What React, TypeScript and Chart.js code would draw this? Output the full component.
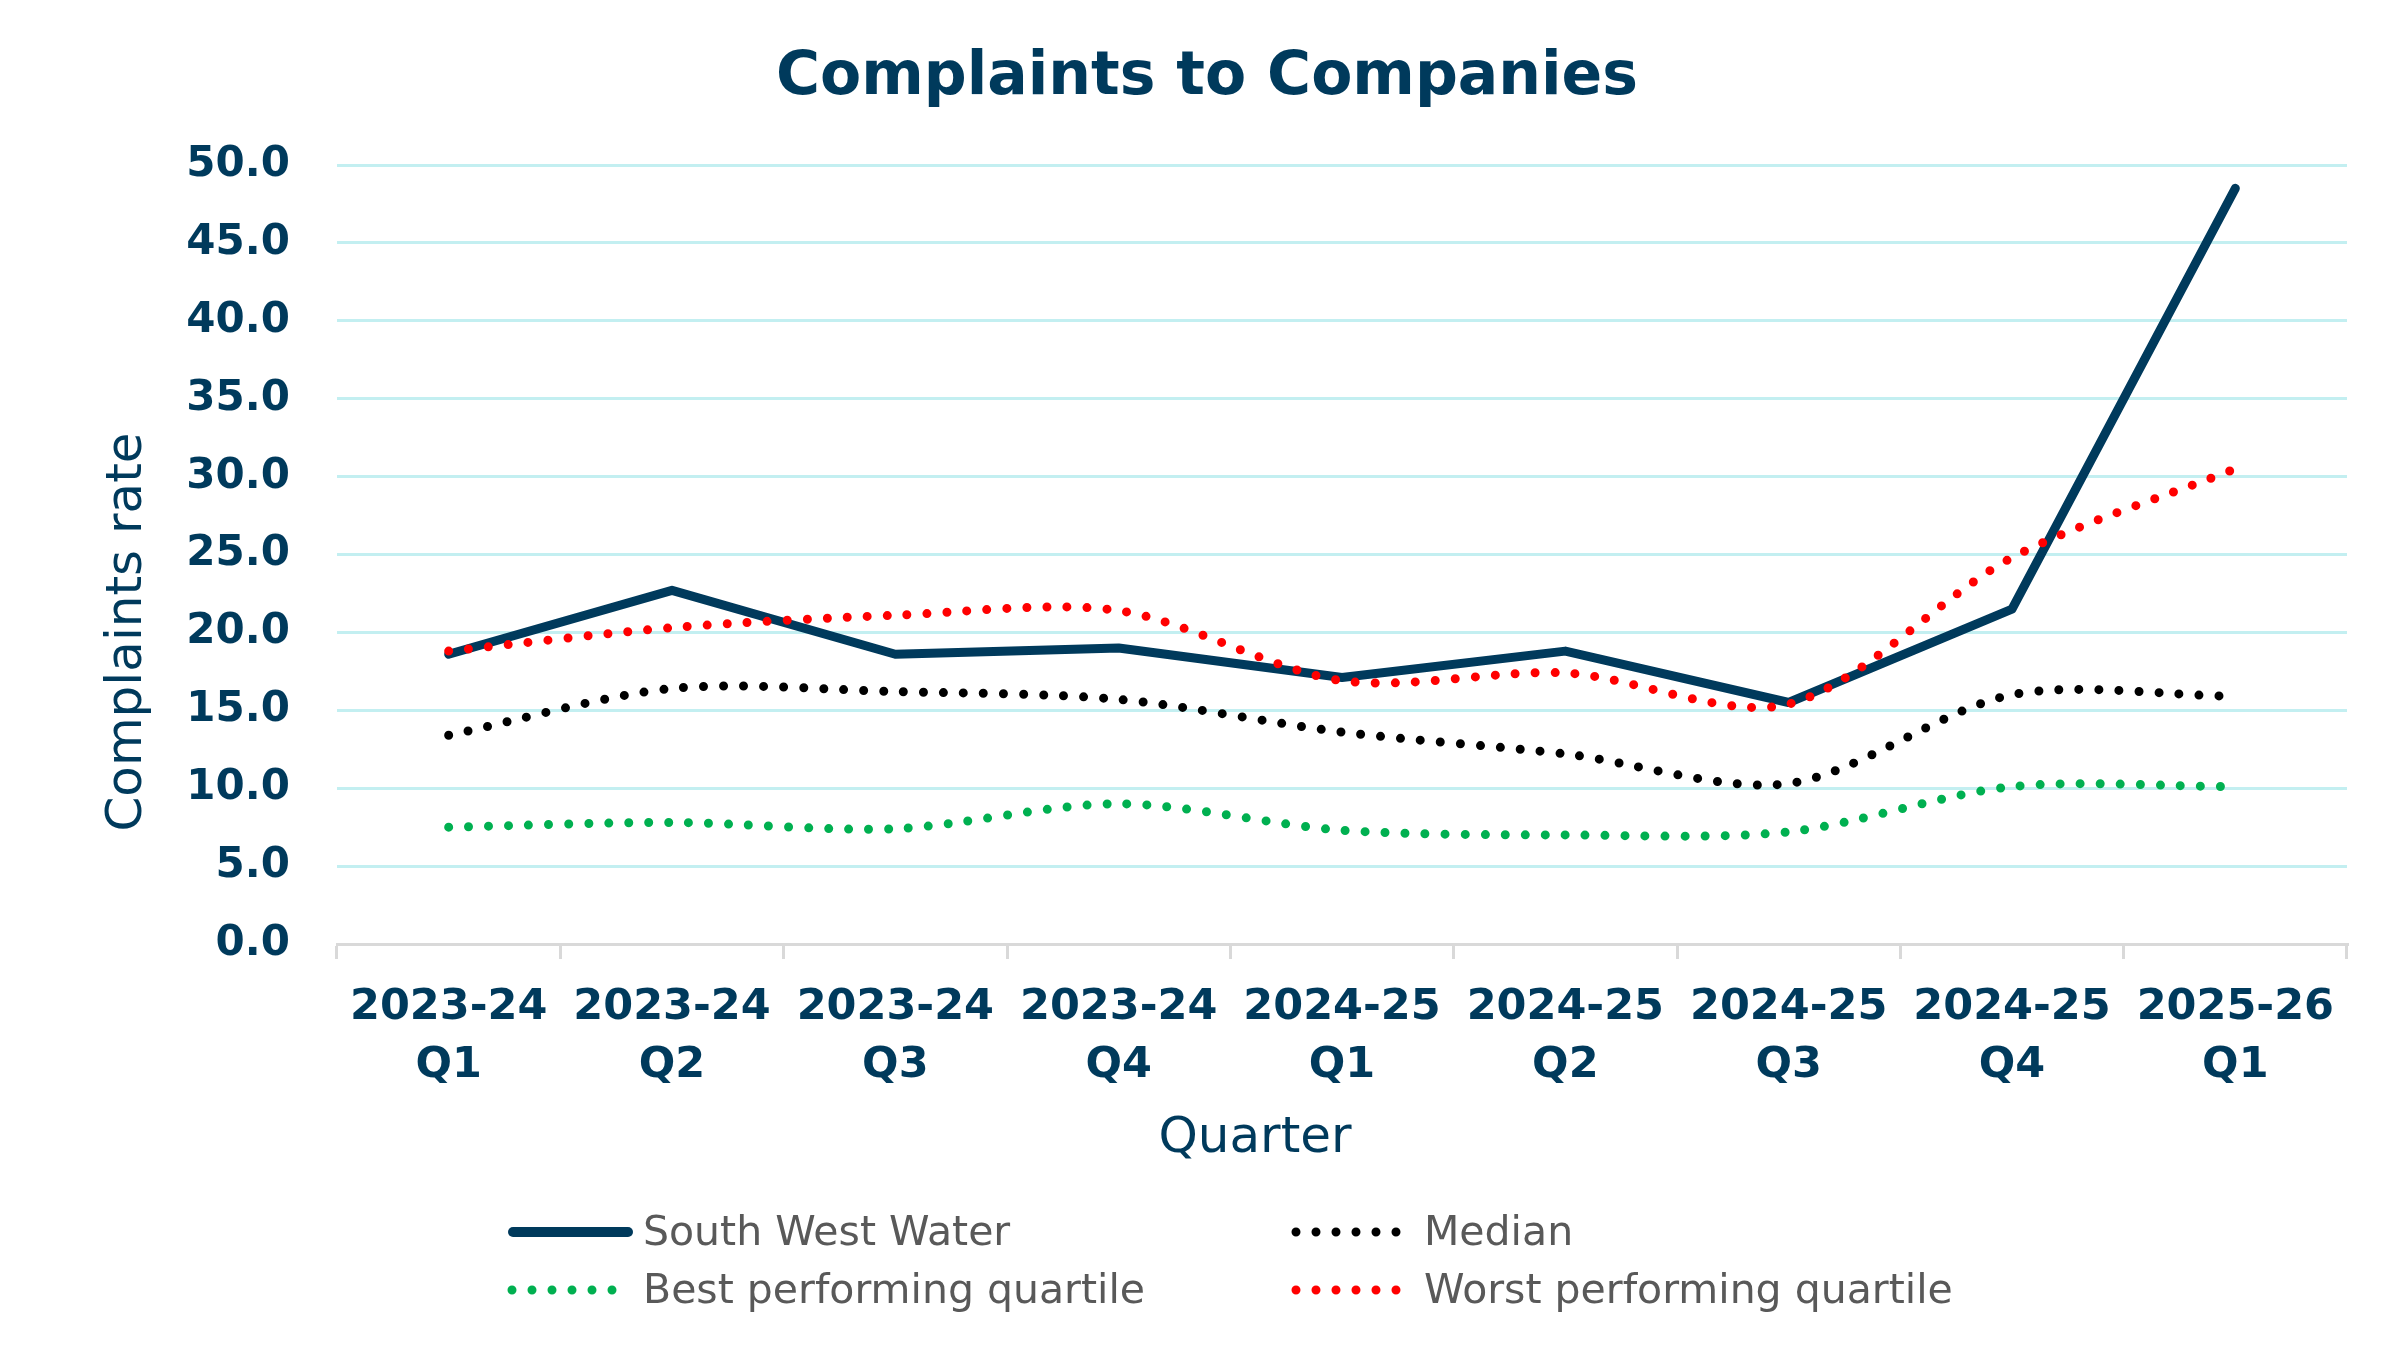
import React, { useEffect, useRef } from "react";
import { Chart, registerables } from "chart.js";

Chart.register(...registerables);

const CATEGORIES: string[][] = [
  ["2023-24", "Q1"],
  ["2023-24", "Q2"],
  ["2023-24", "Q3"],
  ["2023-24", "Q4"],
  ["2024-25", "Q1"],
  ["2024-25", "Q2"],
  ["2024-25", "Q3"],
  ["2024-25", "Q4"],
  ["2025-26", "Q1"],
];

const SOUTH_WEST_WATER = [18.6, 22.7, 18.6, 19.0, 17.1, 18.8, 15.5, 21.5, 48.5];
const MEDIAN = [13.4, 16.4, 16.2, 15.7, 13.6, 12.2, 10.3, 16.0, 15.9];
const BEST_QUARTILE = [7.5, 7.8, 7.4, 9.0, 7.3, 7.0, 7.2, 10.1, 10.1];
const WORST_QUARTILE = [18.8, 20.3, 21.1, 21.4, 16.9, 17.4, 15.4, 24.8, 30.5];

const SERIES_NAMES = [
  "South West Water",
  "Median",
  "Best performing quartile",
  "Worst performing quartile",
];

const TITLE = "Complaints to Companies";
const Y_TITLE = "Complaints rate";
const X_TITLE = "Quarter";

const NAVY = "#003a5c";
const GRID = "#c3eff1";
const AXIS_GRAY = "#d9d9d9";
const LEGEND_TEXT = "#595959";
const RED = "#ff0000";
const GREEN = "#00b050";
const BLACK = "#000000";
const FONT = "'DejaVu Sans', sans-serif";

const overlayPlugin = {
  id: "overlay",
  afterDraw(chart: any) {
    const ctx: CanvasRenderingContext2D = chart.ctx;
    const area = chart.chartArea;

    // Y axis title
    ctx.save();
    ctx.fillStyle = NAVY;
    ctx.font = `400 50px ${FONT}`;
    ctx.textAlign = "center";
    ctx.textBaseline = "middle";
    ctx.translate(128, 632);
    ctx.rotate(-Math.PI / 2);
    ctx.fillText(Y_TITLE, 0, 0);
    ctx.restore();

    // X axis title
    ctx.save();
    ctx.fillStyle = NAVY;
    ctx.font = `400 50px ${FONT}`;
    ctx.textAlign = "center";
    ctx.textBaseline = "middle";
    ctx.fillText(X_TITLE, 1255, area.bottom + 195);
    ctx.restore();

    // Legend
    const rows = [area.bottom + 288, area.bottom + 346];
    const cols = [512, 1296];
    const items = [
      { name: SERIES_NAMES[0], color: NAVY, solid: true, col: 0, row: 0 },
      { name: SERIES_NAMES[1], color: BLACK, solid: false, col: 1, row: 0 },
      { name: SERIES_NAMES[2], color: GREEN, solid: false, col: 0, row: 1 },
      { name: SERIES_NAMES[3], color: RED, solid: false, col: 1, row: 1 },
    ];
    items.forEach((it) => {
      const x0 = cols[it.col];
      const y = rows[it.row];
      ctx.save();
      ctx.strokeStyle = it.color;
      ctx.lineCap = "round";
      if (it.solid) {
        ctx.lineWidth = 10;
        ctx.setLineDash([]);
        ctx.beginPath();
        ctx.moveTo(x0 + 1, y);
        ctx.lineTo(x0 + 116, y);
        ctx.stroke();
      } else {
        ctx.lineWidth = 9;
        ctx.setLineDash([0, 20]);
        ctx.beginPath();
        ctx.moveTo(x0, y);
        ctx.lineTo(x0 + 101, y);
        ctx.stroke();
      }
      ctx.restore();
      ctx.save();
      ctx.fillStyle = LEGEND_TEXT;
      ctx.font = `400 41px ${FONT}`;
      ctx.textAlign = "left";
      ctx.textBaseline = "middle";
      ctx.fillText(it.name, x0 + 131 - (it.col === 1 ? 3 : 0), y + 2);
      ctx.restore();
    });
  },
};

export default function App() {
  const canvasRef = useRef<HTMLCanvasElement | null>(null);

  useEffect(() => {
    document.body.style.margin = "0";
    const canvas = canvasRef.current;
    if (!canvas) return;
    const chart = new Chart(canvas, {
      type: "line",
      data: {
        labels: CATEGORIES,
        datasets: [
          {
            label: SERIES_NAMES[0],
            data: SOUTH_WEST_WATER,
            borderColor: NAVY,
            backgroundColor: NAVY,
            borderWidth: 9,
            borderCapStyle: "round",
            borderJoinStyle: "round",
            pointRadius: 0,
            tension: 0,
            order: 4,
          },
          {
            label: SERIES_NAMES[1],
            data: MEDIAN,
            borderColor: BLACK,
            backgroundColor: BLACK,
            borderWidth: 9,
            borderDash: [0, 20],
            borderCapStyle: "round",
            pointRadius: 0,
            tension: 0.3,
            order: 3,
          },
          {
            label: SERIES_NAMES[2],
            data: BEST_QUARTILE,
            borderColor: GREEN,
            backgroundColor: GREEN,
            borderWidth: 9,
            borderDash: [0, 20],
            borderCapStyle: "round",
            pointRadius: 0,
            tension: 0.3,
            order: 2,
          },
          {
            label: SERIES_NAMES[3],
            data: WORST_QUARTILE,
            borderColor: RED,
            backgroundColor: RED,
            borderWidth: 9,
            borderDash: [0, 20],
            borderCapStyle: "round",
            pointRadius: 0,
            tension: 0.3,
            order: 1,
          },
        ],
      },
      options: {
        responsive: false,
        animation: false,
        devicePixelRatio: 1,
        layout: { padding: { left: 67, right: 52, top: 0, bottom: 253 } },
        plugins: {
          legend: { display: false },
          tooltip: { enabled: false },
          title: {
            display: true,
            text: TITLE,
            color: NAVY,
            font: { family: FONT, size: 60, weight: "bold", lineHeight: 1.2 },
            padding: { top: 42, bottom: 51 },
          },
        },
        scales: {
          x: {
            type: "category",
            offset: true,
            grid: {
              display: true,
              drawOnChartArea: false,
              drawTicks: true,
              tickLength: 15,
              color: AXIS_GRAY,
              lineWidth: 3,
              offset: true,
            },
            border: { display: true, color: AXIS_GRAY, width: 3 },
            ticks: {
              color: NAVY,
              font: { family: FONT, size: 43, weight: "bold", lineHeight: 1.35 },
              padding: 20,
              maxRotation: 0,
              autoSkip: false,
            },
            afterFit: (scale: any) => {
              scale.height = 150;
            },
          },
          y: {
            min: 0,
            max: 50,
            grid: { color: GRID, lineWidth: 3, drawTicks: false },
            border: { display: false },
            ticks: {
              stepSize: 5,
              color: NAVY,
              font: { family: FONT, size: 42, weight: "bold" },
              padding: 47,
              callback: (v: any) => Number(v).toFixed(1),
            },
            afterFit: (scale: any) => {
              scale.width = 270;
            },
          },
        },
      },
      plugins: [overlayPlugin],
    } as any);
    return () => {
      chart.destroy();
    };
  }, []);

  return (
    <canvas
      ref={canvasRef}
      width={2399}
      height={1347}
      style={{ display: "block", width: "2399px", height: "1347px" }}
    />
  );
}
